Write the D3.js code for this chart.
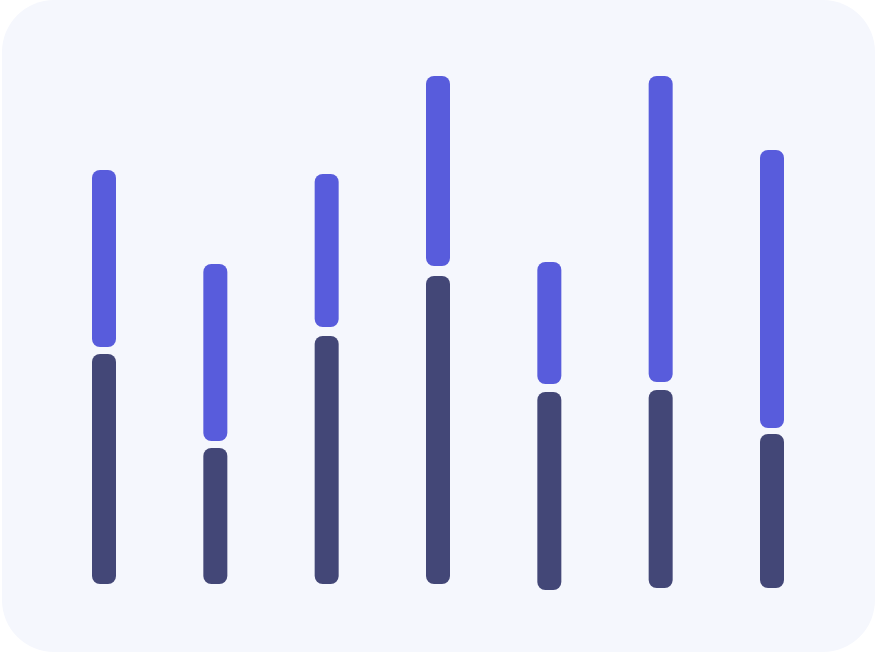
<!DOCTYPE html>
<html>
<head>
<meta charset="utf-8">
<script src="https://cdn.jsdelivr.net/npm/d3@7"></script>
<style>
  html, body { margin: 0; padding: 0; background: #ffffff; }
  svg { display: block; }
</style>
</head>
<body>
<svg id="chart" width="876" height="652"></svg>
<script>
// Data
const categories = ["A", "B", "C", "D", "E", "F", "G"];
const darkLow  = [16, 16, 16, 16, 10, 12, 12];
const darkHigh = [246, 152, 264, 324, 208, 210, 166];
const blueLow  = [253, 159, 273, 334, 216, 218, 172];
const blueHigh = [430, 336, 426, 524, 338, 524, 450];

const W = 876, H = 652;
const svg = d3.select("#chart");

svg.append("rect")
  .attr("x", 2).attr("y", 0)
  .attr("width", 873).attr("height", 652)
  .attr("rx", 52).attr("ry", 52)
  .attr("fill", "#f5f7fd");

const x = d3.scalePoint().domain(categories).range([104, 772]);
const y = d3.scaleLinear().domain([0, 524]).range([600, 76]);
const bw = 24;

const rows = categories.map((c, i) => ({
  c, dl: darkLow[i], dh: darkHigh[i], bl: blueLow[i], bh: blueHigh[i]
}));

const g = svg.append("g");
g.selectAll("rect.dark").data(rows).join("rect")
  .attr("class", "dark")
  .attr("x", d => x(d.c) - bw / 2)
  .attr("width", bw)
  .attr("y", d => y(d.dh))
  .attr("height", d => y(d.dl) - y(d.dh))
  .attr("rx", 8).attr("ry", 8)
  .attr("fill", "#434777");

g.selectAll("rect.blue").data(rows).join("rect")
  .attr("class", "blue")
  .attr("x", d => x(d.c) - bw / 2)
  .attr("width", bw)
  .attr("y", d => y(d.bh))
  .attr("height", d => y(d.bl) - y(d.bh))
  .attr("rx", 8).attr("ry", 8)
  .attr("fill", "#585cdc");
</script>
</body>
</html>
